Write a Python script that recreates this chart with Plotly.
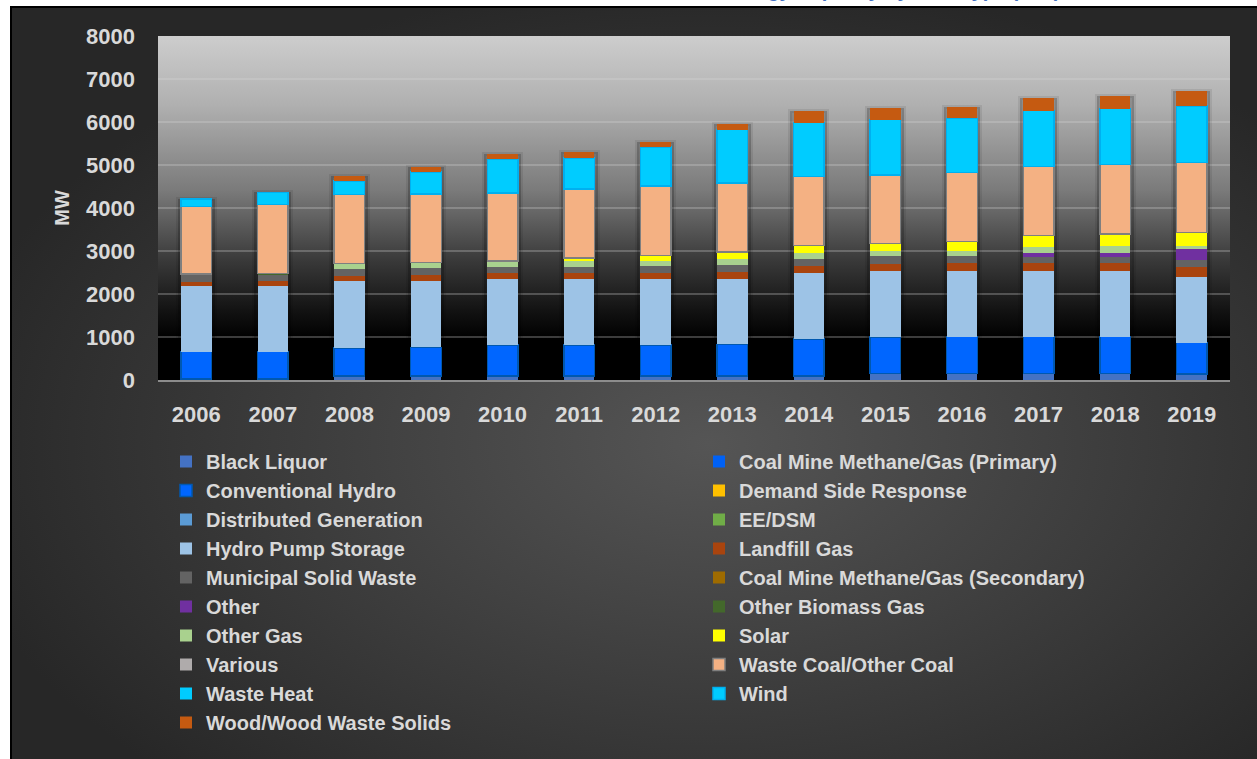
import base64

import plotly.graph_objects as go

years = ["2006", "2007", "2008", "2009", "2010", "2011", "2012",
         "2013", "2014", "2015", "2016", "2017", "2018", "2019"]

# capacity in MW (stack order = legend order)
black_liquor = [20, 20, 90, 90, 90, 90, 90, 90, 90, 150, 155, 155, 155, 145]
cmm_primary = [0] * 14
conventional_hydro = [640, 640, 660, 670, 725, 725, 725, 740, 865, 855, 855, 855, 855, 725]
demand_side_response = [0] * 14
distributed_generation = [0] * 14
ee_dsm = [0] * 14
hydro_pump_storage = [1535, 1535, 1550, 1542, 1535, 1535, 1535, 1530, 1543, 1535, 1535, 1535, 1535, 1535]
landfill_gas = [95, 109, 117, 140, 132, 132, 132, 155, 155, 155, 170, 170, 170, 225]
municipal_solid_waste = [170, 156, 162, 155, 155, 155, 170, 170, 163, 186, 171, 155, 155, 163]
cmm_secondary = [0] * 14
other = [0, 0, 0, 0, 0, 0, 0, 0, 0, 0, 0, 93, 93, 248]
other_biomass_gas = [0, 20, 0, 0, 0, 0, 0, 0, 0, 0, 0, 0, 0, 0]
other_gas = [0, 0, 130, 135, 135, 135, 118, 140, 139, 124, 116, 140, 155, 77]
solar = [0, 0, 0, 0, 0, 62, 124, 147, 171, 170, 217, 256, 279, 310]
various = [0] * 14
waste_coal = [1572, 1604, 1605, 1589, 1574, 1604, 1613, 1604, 1604, 1589, 1612, 1605, 1613, 1628]
waste_heat = [0] * 14
wind = [180, 280, 317, 519, 783, 729, 907, 1248, 1256, 1294, 1256, 1302, 1300, 1317]
wood_waste_solids = [0, 0, 117, 117, 116, 140, 116, 140, 279, 279, 271, 287, 289, 349]

series = [
    ("Black Liquor", black_liquor, "#4472C4", None),
    ("Coal Mine Methane/Gas (Primary)", cmm_primary, "#0061F5", None),
    ("Conventional Hydro", conventional_hydro, "#0066FF", "#0058B0"),
    ("Demand Side Response", demand_side_response, "#FFC000", None),
    ("Distributed Generation", distributed_generation, "#5B9BD5", None),
    ("EE/DSM", ee_dsm, "#70AD47", None),
    ("Hydro Pump Storage", hydro_pump_storage, "#9DC3E6", None),
    ("Landfill Gas", landfill_gas, "#A9440E", None),
    ("Municipal Solid Waste", municipal_solid_waste, "#636363", None),
    ("Coal Mine Methane/Gas (Secondary)", cmm_secondary, "#9E6B00", None),
    ("Other", other, "#7030A0", None),
    ("Other Biomass Gas", other_biomass_gas, "#43682B", None),
    ("Other Gas", other_gas, "#A9D18E", None),
    ("Solar", solar, "#FFFF00", None),
    ("Various", various, "#AFABAB", None),
    ("Waste Coal/Other Coal", waste_coal, "#F4B183", "#7F7F7F"),
    ("Waste Heat", waste_heat, "#00CCFF", None),
    ("Wind", wind, "#00CCFF", "#00B0F0"),
    ("Wood/Wood Waste Solids", wood_waste_solids, "#C55A11", None),
]

W, H = 1257, 759
L, R, T, B = 158, 27, 36, 379
pw, ph = W - L - R, H - T - B


def svg_uri(svg):
    return "data:image/svg+xml;base64," + base64.b64encode(svg.encode()).decode()


panel_svg = f"""<svg xmlns="http://www.w3.org/2000/svg" width="{W}" height="{H}" viewBox="0 0 {W} {H}">
<defs><radialGradient id="g" cx="0.56" cy="0.58" r="0.62">
<stop offset="0" stop-color="#555555"/><stop offset="1" stop-color="#272727"/></radialGradient></defs>
<rect x="0" y="0" width="{W}" height="{H}" fill="#ffffff"/>
<rect x="10" y="6" width="{W - 10}" height="{H - 6}" fill="#000000"/>
<rect x="12" y="8" width="{W - 12}" height="{H - 8}" fill="url(#g)"/>
</svg>"""

plot_svg = """<svg xmlns="http://www.w3.org/2000/svg" width="100" height="100" viewBox="0 0 100 100" preserveAspectRatio="none">
<defs><linearGradient id="p" x1="0" y1="0" x2="0" y2="1">
<stop offset="0" stop-color="#cdcdcd"/><stop offset="0.2" stop-color="#b0b0b0"/>
<stop offset="0.45" stop-color="#7a7a7a"/><stop offset="0.65" stop-color="#3a3a3a"/>
<stop offset="0.8" stop-color="#121212"/><stop offset="0.88" stop-color="#000000"/>
<stop offset="1" stop-color="#000000"/></linearGradient></defs>
<rect x="0" y="0" width="100" height="100" fill="url(#p)"/>
</svg>"""

fig = go.Figure()

# soft dark halo behind each column (drawn on the base axes, bars sit on the overlay)
totals = [sum(s[1][i] for s in series) for i in range(len(years))]
fig.add_trace(go.Bar(
    x=years, y=totals, width=0.48, showlegend=False, hoverinfo="skip",
    marker=dict(color="rgba(0,0,0,0.2)", line=dict(color="rgba(0,0,0,0.08)", width=4)),
))

for name, vals, color, edge in series:
    fig.add_trace(go.Bar(
        x=years, y=vals, name=name, xaxis="x2",
        marker=dict(color=color,
                    line=dict(color=edge or color, width=1.5 if edge else 0)),
    ))

bold = dict(family="Liberation Sans, Arial, sans-serif", weight="bold", color="#d9d9d9")

fig.update_layout(
    width=W, height=H,
    margin=dict(l=L, r=R, t=T, b=B, autoexpand=False),
    barmode="stack",
    bargap=0.6,
    paper_bgcolor="#ffffff",
    plot_bgcolor="rgba(0,0,0,0)",
    showlegend=True,
    legend=dict(
        orientation="h",
        x=(166 - L) / pw, xanchor="left",
        y=-(442 - (H - B)) / ph, yanchor="top",
        entrywidth=488, entrywidthmode="pixels",
        traceorder="normal",
        bgcolor="rgba(0,0,0,0)",
        font=dict(size=20, **bold),
    ),
    xaxis=dict(showgrid=False, showline=True, linecolor="#8c8c8c", linewidth=2,
               ticks="", tickfont=dict(size=22, **bold), ticklabelstandoff=14),
    xaxis2=dict(overlaying="x", matches="x", visible=False),
    images=[
        dict(source=svg_uri(panel_svg), xref="paper", yref="paper",
             x=-L / pw, y=1 + T / ph, sizex=W / pw, sizey=H / ph,
             xanchor="left", yanchor="top", sizing="stretch", layer="below"),
        dict(source=svg_uri(plot_svg), xref="paper", yref="paper",
             x=0, y=1, sizex=1, sizey=1,
             xanchor="left", yanchor="top", sizing="stretch", layer="below"),
    ],
    annotations=[
        dict(text="Alternative Energy Capacity by Fuel Type (MW)",
             xref="paper", yref="paper", x=(1062 - L) / pw, xanchor="right",
             y=1 + (T - 3) / ph, yanchor="bottom", showarrow=False,
             font=dict(family="Liberation Sans, Arial, sans-serif", size=20,
                       weight="bold", color="#4472C4")),
    ],
)

fig.update_yaxes(
    range=[0, 8000], dtick=1000, showgrid=True,
    gridcolor="rgba(215,215,215,0.28)", gridwidth=1.5,
    zeroline=False, showline=False, ticks="",
    tickfont=dict(size=22, **bold), ticklabelstandoff=22,
    title=dict(text="MW", font=dict(size=20, **bold), standoff=11),
)

fig.write_html(
    "out.html",
    config={"displayModeBar": False},
    post_script="document.body.style.margin='0';document.body.style.overflow='hidden';",
)
